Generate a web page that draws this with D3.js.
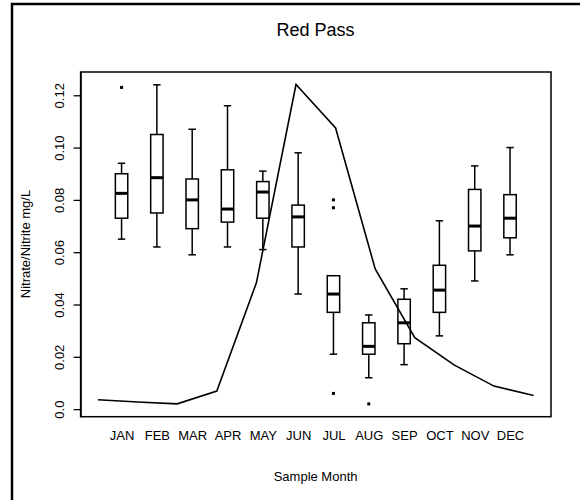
<!DOCTYPE html>
<html>
<head>
<meta charset="utf-8">
<script src="https://cdn.jsdelivr.net/npm/d3@7/dist/d3.min.js"></script>
<style>
  body { margin: 0; background: #fff; }
  svg { display: block; font-family: "Liberation Sans", Arial, sans-serif; }
</style>
</head>
<body>
<svg id="chart" width="580" height="500"></svg>
<script>
// month labels
var months = ['JAN','FEB','MAR','APR','MAY','JUN','JUL','AUG','SEP','OCT','NOV','DEC'];
// box stats (mg/L)
var whiskLow  = [0.065, 0.062, 0.059, 0.062, 0.061, 0.044, 0.021, 0.012, 0.017, 0.028, 0.049, 0.059];
var q1        = [0.073, 0.075, 0.069, 0.0715, 0.073, 0.062, 0.037, 0.021, 0.025, 0.037, 0.0605, 0.0655];
var medians   = [0.0825, 0.0885, 0.080, 0.0765, 0.083, 0.0735, 0.044, 0.024, 0.033, 0.0455, 0.070, 0.073];
var q3        = [0.090, 0.105, 0.088, 0.0915, 0.087, 0.078, 0.051, 0.033, 0.042, 0.055, 0.084, 0.082];
var whiskHigh = [0.094, 0.124, 0.107, 0.116, 0.091, 0.098, 0.051, 0.036, 0.046, 0.072, 0.093, 0.100];
// outliers: [month index, value]
var outliers = [[0, 0.123], [6, 0.080], [6, 0.077], [6, 0.006], [7, 0.002]];
// overlaid line (read against the left axis)
var lineVals = [0.0036, 0.0027, 0.0020, 0.0069, 0.0483, 0.1241, 0.1075, 0.0536, 0.0273, 0.0168, 0.0088, 0.0052];
var yTicks = [0, 0.02, 0.04, 0.06, 0.08, 0.10, 0.12];
var yTickLabels = ['0.0', '0.02', '0.04', '0.06', '0.08', '0.10', '0.12'];

var svg = d3.select('#chart');
var margin = { left: 80.6, right: 551, top: 72, bottom: 416.7 };
var fontsize = 13;

// outer frame
svg.append('rect')
  .attr('x', 12).attr('y', 4)
  .attr('width', 700).attr('height', 700)
  .attr('fill', 'none').attr('stroke', 'black').attr('stroke-width', 2.5);

var yScale = d3.scaleLinear().domain([-0.0029, 0.1289]).range([margin.bottom, margin.top]);
// boxes and line sit on different x ranges
var xBox = d3.scaleLinear().domain([-0.16, 13.16]).range([margin.left, margin.right]);
var xLine = d3.scaleLinear().domain([0.56, 12.44]).range([margin.left, margin.right]);

//**************** y axis
var yAxis = d3.axisLeft(yScale)
  .tickValues(yTicks)
  .tickFormat((d, i) => yTickLabels[i])
  .tickSizeOuter(0)
  .tickSizeInner(7);

var yAxisG = svg.append('g')
  .attr('transform', `translate(${margin.left},0)`)
  .call(yAxis);
yAxisG.select('.domain').attr('stroke-width', 1.3);
yAxisG.selectAll('line').attr('stroke-width', 1.3);
yAxisG.selectAll('.tick text')
  .attr('transform', 'rotate(-90)')
  .attr('x', 0)
  .attr('y', -16.6)
  .attr('dy', 0)
  .attr('text-anchor', 'middle')
  .style('font-size', fontsize)
  .style('font-family', '"Liberation Sans", Arial, sans-serif')
  .attr('fill', 'black');

//**************** month labels
var xAxis = d3.axisBottom(xBox)
  .tickValues(d3.range(1, 13))
  .tickFormat(d => months[d - 1])
  .tickSize(0)
  .tickPadding(0);
var xAxisG = svg.append('g')
  .attr('transform', `translate(0,440)`)
  .call(xAxis);
xAxisG.select('.domain').remove();
xAxisG.selectAll('text')
  .attr('dy', 0)
  .attr('y', 0)
  .style('font-size', fontsize)
  .style('font-family', '"Liberation Sans", Arial, sans-serif')
  .attr('fill', 'black');

//**************** boxplots
var boxW = 12.4, capW = 7.4;
var stats = months.map((m, i) => ({
  i: i + 1, lo: whiskLow[i], q1: q1[i], med: medians[i], q3: q3[i], hi: whiskHigh[i]
}));

var boxes = svg.append('g').attr('class', 'boxes')
  .selectAll('g')
  .data(stats)
  .enter()
  .append('g');

// whiskers
boxes.append('line')
  .attr('x1', d => xBox(d.i)).attr('x2', d => xBox(d.i))
  .attr('y1', d => yScale(d.hi)).attr('y2', d => yScale(d.q3))
  .attr('stroke', 'black').attr('stroke-width', 1.5);
boxes.append('line')
  .attr('x1', d => xBox(d.i)).attr('x2', d => xBox(d.i))
  .attr('y1', d => yScale(d.q1)).attr('y2', d => yScale(d.lo))
  .attr('stroke', 'black').attr('stroke-width', 1.5);
// caps
boxes.append('line')
  .attr('x1', d => xBox(d.i) - capW / 2).attr('x2', d => xBox(d.i) + capW / 2)
  .attr('y1', d => yScale(d.hi)).attr('y2', d => yScale(d.hi))
  .attr('stroke', 'black').attr('stroke-width', 1.5);
boxes.append('line')
  .attr('x1', d => xBox(d.i) - capW / 2).attr('x2', d => xBox(d.i) + capW / 2)
  .attr('y1', d => yScale(d.lo)).attr('y2', d => yScale(d.lo))
  .attr('stroke', 'black').attr('stroke-width', 1.5);
// box
boxes.append('rect')
  .attr('x', d => xBox(d.i) - boxW / 2)
  .attr('width', boxW)
  .attr('y', d => yScale(d.q3))
  .attr('height', d => yScale(d.q1) - yScale(d.q3))
  .attr('fill', 'white').attr('stroke', 'black').attr('stroke-width', 1.5);
// median
boxes.append('line')
  .attr('x1', d => xBox(d.i) - boxW / 2).attr('x2', d => xBox(d.i) + boxW / 2)
  .attr('y1', d => yScale(d.med)).attr('y2', d => yScale(d.med))
  .attr('stroke', 'black').attr('stroke-width', 3);

// outliers
svg.append('g').selectAll('rect')
  .data(outliers)
  .enter()
  .append('rect')
  .attr('x', d => xBox(d[0] + 1) - 1.5)
  .attr('y', d => yScale(d[1]) - 1.5)
  .attr('width', 3).attr('height', 3)
  .attr('fill', 'black');

//**************** overlaid line
svg.append('path')
  .datum(lineVals)
  .attr('d', d3.line().x((d, i) => xLine(i + 1)).y(d => yScale(d)))
  .attr('fill', 'none')
  .attr('stroke', 'black')
  .attr('stroke-width', 1.6);

//**************** plot frame
svg.append('rect')
  .attr('x', margin.left).attr('y', margin.top)
  .attr('width', margin.right - margin.left).attr('height', margin.bottom - margin.top)
  .attr('fill', 'none').attr('stroke', 'black').attr('stroke-width', 1.5);

//**************** titles
svg.append('text')
  .attr('x', 315.6).attr('y', 36)
  .attr('text-anchor', 'middle')
  .text('Red Pass')
  .style('font-size', 18)
  .attr('fill', 'black');

svg.append('text')
  .attr('x', 315.6).attr('y', 480.5)
  .attr('text-anchor', 'middle')
  .text('Sample Month')
  .style('font-size', fontsize)
  .attr('fill', 'black');

svg.append('g')
  .attr('transform', `translate(29.5,244)`)
  .append('text')
  .attr('transform', 'rotate(-90)')
  .attr('text-anchor', 'middle')
  .text('Nitrate/Nitrite mg/L')
  .style('font-size', fontsize)
  .attr('fill', 'black');
</script>
</body>
</html>
